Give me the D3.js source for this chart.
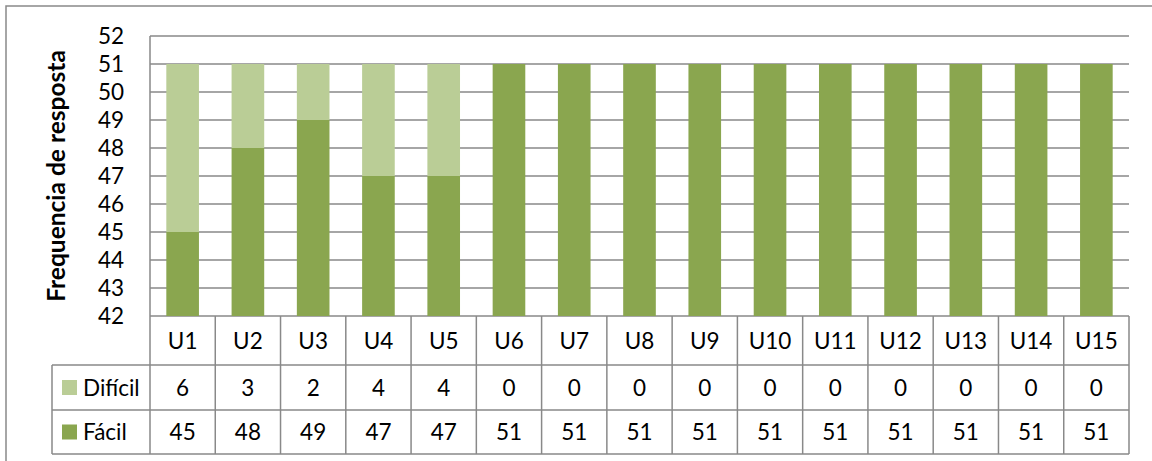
<!DOCTYPE html>
<html>
<head>
<meta charset="utf-8">
<script src="https://cdn.jsdelivr.net/npm/d3@7"></script>
<style>
  html, body { margin: 0; padding: 0; background: #fff; }
  svg text { font-family: Lato, "Open Sans", sans-serif; fill: #000; }
</style>
</head>
<body>
<svg id="chart" width="1152" height="461"></svg>
<script>
// Data
const categories = ["U1","U2","U3","U4","U5","U6","U7","U8","U9","U10","U11","U12","U13","U14","U15"];
const facil   = [45, 48, 49, 47, 47, 51, 51, 51, 51, 51, 51, 51, 51, 51, 51];
const dificil = [6, 3, 2, 4, 4, 0, 0, 0, 0, 0, 0, 0, 0, 0, 0];
const seriesNames = ["Fácil", "Difícil"];
const yTicks = [42, 43, 44, 45, 46, 47, 48, 49, 50, 51, 52];
const yTitle = "Frequencia de resposta";

const colors = { "Fácil": "#8aa64f", "Difícil": "#bacd96" };
const lineColor = "#898989";

const svg = d3.select("#chart");

// Layout
const plot = { left: 150, right: 1129, top: 36, bottom: 316 };
const tableRows = [316, 365, 410, 454];
const legendLeft = 52;

// Outer chart frame
svg.append("rect")
  .attr("x", 6).attr("y", 6).attr("width", 1160).attr("height", 470)
  .attr("fill", "none").attr("stroke", lineColor).attr("stroke-width", 1.5);

// Scales
const x = d3.scaleBand().domain(categories).range([plot.left, plot.right])
  .paddingInner(0.5).paddingOuter(0.25);
const xCell = d3.scaleBand().domain(categories).range([plot.left, plot.right]);
const y = d3.scaleLinear().domain([42, 52]).range([plot.bottom, plot.top]).clamp(true);

// Gridlines
svg.append("g").selectAll("line").data(yTicks).join("line")
  .attr("x1", plot.left).attr("x2", plot.right)
  .attr("y1", d => y(d)).attr("y2", d => y(d))
  .attr("stroke", lineColor).attr("stroke-width", 1.5);

// Stacked bars
const rows = categories.map((c, i) => ({ cat: c, "Fácil": facil[i], "Difícil": dificil[i] }));
const stacked = d3.stack().keys(seriesNames)(rows);
svg.append("g").selectAll("g").data(stacked).join("g")
  .attr("fill", d => colors[d.key])
  .selectAll("rect").data(d => d).join("rect")
  .attr("x", d => x(d.data.cat))
  .attr("width", x.bandwidth())
  .attr("y", d => y(d[1]))
  .attr("height", d => Math.max(0, y(d[0]) - y(d[1])));

// Y axis labels
const yAxis = d3.axisLeft(y).tickValues(yTicks).tickSize(0).tickPadding(26);
const yAxisG = svg.append("g").attr("transform", `translate(${plot.left},0)`).call(yAxis);
yAxisG.select(".domain").remove();
yAxisG.selectAll("text")
  .style("font-family", "Lato, sans-serif").style("font-size", "22.5px").attr("fill", "#000");

// Y axis title
svg.append("text")
  .attr("transform", `translate(65,${(plot.top + plot.bottom) / 2}) rotate(-90)`)
  .attr("text-anchor", "middle")
  .style("font-size", "24.5px").style("font-weight", "bold")
  .text(yTitle);

// Data table lines
const tg = svg.append("g").attr("stroke", lineColor).attr("stroke-width", 1.5);
// left axis line running through the table
tg.append("line").attr("x1", plot.left).attr("x2", plot.left)
  .attr("y1", plot.top).attr("y2", tableRows[3]);
// column separators
tg.selectAll(".col").data(categories).join("line")
  .attr("x1", d => xCell(d) + xCell.bandwidth()).attr("x2", d => xCell(d) + xCell.bandwidth())
  .attr("y1", tableRows[0]).attr("y2", tableRows[3]);
// row lines across value columns
tg.selectAll(".row").data(tableRows.slice(1)).join("line")
  .attr("x1", legendLeft).attr("x2", plot.right)
  .attr("y1", d => d).attr("y2", d => d);
// legend column left edge
tg.append("line").attr("x1", legendLeft).attr("x2", legendLeft)
  .attr("y1", tableRows[1]).attr("y2", tableRows[3]);

// Category row
const cellCenter = d => xCell(d) + xCell.bandwidth() / 2;
svg.append("g").selectAll("text").data(categories).join("text")
  .attr("x", cellCenter).attr("y", (tableRows[0] + tableRows[1]) / 2)
  .attr("dy", "0.36em").attr("text-anchor", "middle")
  .style("font-size", "22.5px").text(d => d);

// Value rows: Difícil then Fácil
const tableSeries = [
  { name: "Difícil", values: dificil, top: tableRows[1], bottom: tableRows[2] },
  { name: "Fácil", values: facil, top: tableRows[2], bottom: tableRows[3] }
];
tableSeries.forEach(s => {
  const cy = (s.top + s.bottom) / 2;
  svg.append("g").selectAll("text").data(categories).join("text")
    .attr("x", cellCenter).attr("y", cy)
    .attr("dy", "0.36em").attr("text-anchor", "middle")
    .style("font-size", "22.5px").text((d, i) => s.values[i]);
  // legend key
  svg.append("rect").attr("x", 62).attr("y", cy - 7.5)
    .attr("width", 15).attr("height", 15).attr("fill", colors[s.name]);
  svg.append("text").attr("x", 83).attr("y", cy).attr("dy", "0.36em")
    .style("font-size", "22.5px").text(s.name);
});
</script>
</body>
</html>
